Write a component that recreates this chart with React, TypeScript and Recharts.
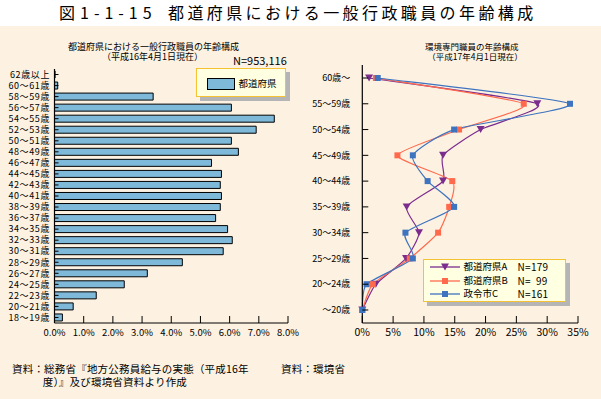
import React from 'react';
import {
  BarChart,
  Bar,
  LineChart,
  Line,
  XAxis,
  YAxis,
} from 'recharts';

const FONT = '"Noto Sans CJK JP", "Noto Sans", sans-serif';

// left chart: 都道府県 一般行政職員 (%)
const ageBands = [
  '62歳以上', '60～61歳', '58～59歳', '56～57歳', '54～55歳', '52～53歳',
  '50～51歳', '48～49歳', '46～47歳', '44～45歳', '42～43歳', '40～41歳',
  '38～39歳', '36～37歳', '34～35歳', '32～33歳', '30～31歳', '28～29歳',
  '26～27歳', '24～25歳', '22～23歳', '20～21歳', '18～19歳',
];
const prefShare = [
  0.02, 0.11, 3.38, 6.06, 7.53, 6.91, 6.06, 6.3, 5.38, 5.72, 5.68, 5.72,
  5.68, 5.52, 5.93, 6.09, 5.78, 4.38, 3.18, 2.39, 1.43, 0.64, 0.27,
];
const leftTicks = [0, 1, 2, 3, 4, 5, 6, 7, 8];

// right chart: 環境専門職員 (%)
const ageGroups = [
  '60歳～', '55～59歳', '50～54歳', '45～49歳', '40～44歳',
  '35～39歳', '30～34歳', '25～29歳', '20～24歳', '～20歳',
];
const prefA = [1.1, 28.4, 19.2, 13.1, 13.1, 7.2, 9.2, 7.1, 2.2, 0];
const prefB = [2.2, 26.2, 15.7, 5.7, 14.6, 14.1, 12.3, 7.7, 1.7, 0];
const cityC = [2.5, 33.7, 14.9, 8.2, 10.6, 14.9, 7.0, 8.2, 0.7, 0];
const rightTicks = [0, 5, 10, 15, 20, 25, 30, 35];

const barData = ageBands.map((age, i) => ({ age, value: prefShare[i] }));
const lineData = ageGroups.map((age, i) => ({
  age,
  a: prefA[i],
  b: prefB[i],
  c: cityC[i],
}));

const PURPLE = '#7B2D8E';
const ORANGE = '#FF6A4D';
const BLUE = '#3D73BF';

// mildly smoothed line, close to Excel's smoothing
function smoothCurve(context: any) {
  let pts: [number, number][] = [];
  const k = 1 / 10;
  return {
    areaStart() {},
    areaEnd() {},
    lineStart() {
      pts = [];
    },
    lineEnd() {
      if (!pts.length) return;
      context.moveTo(pts[0][0], pts[0][1]);
      for (let i = 0; i < pts.length - 1; i++) {
        const p0 = pts[i - 1] || pts[i];
        const p1 = pts[i];
        const p2 = pts[i + 1];
        const p3 = pts[i + 2] || p2;
        context.bezierCurveTo(
          p1[0] + (p2[0] - p0[0]) * k,
          p1[1] + (p2[1] - p0[1]) * k,
          p2[0] - (p3[0] - p1[0]) * k,
          p2[1] - (p3[1] - p1[1]) * k,
          p2[0],
          p2[1]
        );
      }
    },
    point(x: number, y: number) {
      pts.push([x, y]);
    },
  };
}

const makeXTick = (fmt: (v: number) => string, size: number) => (props: any) => {
  const { x, y, payload } = props;
  return (
    <g>
      <line x1={x} x2={x} y1={y} y2={y - 7} stroke='#000' />
      <text x={x} y={y + 13} textAnchor='middle' fontSize={size} fontFamily={FONT} fill='#000'>
        {fmt(payload.value)}
      </text>
    </g>
  );
};

const makeYTick = (gap: number, len: number, size: number, spacing = 0) => (props: any) => {
  const { x, y, payload } = props;
  return (
    <g>
      <line x1={x} x2={x + len} y1={y} y2={y} stroke='#000' />
      <text
        x={x - gap}
        y={y}
        dy={size * 0.36}
        textAnchor='end'
        fontSize={size}
        letterSpacing={spacing}
        fontFamily={FONT}
        fill='#000'
      >
        {payload.value}
      </text>
    </g>
  );
};

const triangle = (color: string) => (p: any) => (
  <path
    key={`t-${p.index}`}
    d={`M${p.cx - 4},${p.cy - 3.5} L${p.cx + 4},${p.cy - 3.5} L${p.cx},${p.cy + 3.5} Z`}
    fill={color}
  />
);
const square = (color: string) => (p: any) => (
  <rect key={`s-${p.index}`} x={p.cx - 3} y={p.cy - 3} width={6} height={6} fill={color} />
);

function Text({ left, top, size, children, spacing = 0, center }: any) {
  const style: React.CSSProperties = {
    position: 'absolute',
    top: top - size / 2,
    fontSize: size,
    lineHeight: 1,
    letterSpacing: spacing,
    whiteSpace: 'nowrap',
    color: '#000',
  };
  if (center) {
    style.left = left - 150;
    style.width = 300;
    style.textAlign = 'center';
  } else {
    style.left = left;
  }
  return <div style={style}>{children}</div>;
}

function LegendIcon({ color, marker }: { color: string; marker: 'tri' | 'sq' }) {
  return (
    <svg width={32} height={8} style={{ position: 'absolute', left: 0, top: -4 }}>
      <line x1={1} x2={31} y1={4} y2={4} stroke={color} strokeWidth={1.3} />
      {marker === 'tri' ? (
        <path d='M12,0.5 L20,0.5 L16,7.5 Z' fill={color} />
      ) : (
        <rect x={13} y={1} width={6} height={6} fill={color} />
      )}
    </svg>
  );
}

export default function App() {
  const legendItems = [
    { name: '都道府県A', n: 'N=179', color: PURPLE, marker: 'tri' as const, y: 267 },
    { name: '都道府県B', n: 'N=  99', color: ORANGE, marker: 'sq' as const, y: 280.5 },
    { name: '政令市C', n: 'N=161', color: BLUE, marker: 'sq' as const, y: 294 },
  ];

  return (
    <div
      style={{
        position: 'absolute',
        left: 0,
        top: 0,
        width: 601,
        height: 399,
        background: '#FDF2E2',
        fontFamily: FONT,
        overflow: 'hidden',
      }}
    >
      <div style={{ position: 'absolute', left: 0, top: 0, width: 601, height: 26, background: '#fff' }} />
      <Text left={59} top={12} size={16} spacing={5}>図1-1-15</Text>
      <Text left={168} top={12} size={16} spacing={3.4}>都道府県における一般行政職員の年齢構成</Text>

      <Text left={153.5} top={46} size={9} center>都道府県における一般行政職員の年齢構成</Text>
      <Text left={152.5} top={56} size={9} center>（平成16年4月1日現在）</Text>
      <Text left={233} top={60} size={11}>N=953,116</Text>

      <Text left={471.7} top={46} size={8.5} center>環境専門職員の年齢構成</Text>
      <Text left={475} top={56} size={8.5} center>（平成17年4月1日現在）</Text>

      <div style={{ position: 'absolute', left: 0, top: 0 }}>
        <BarChart
          width={300}
          height={345}
          data={barData}
          layout='vertical'
          margin={{ top: 69, right: 12, bottom: 0, left: 0.5 }}
        >
          <XAxis
            type='number'
            domain={[0, 8]}
            ticks={leftTicks}
            interval={0}
            height={22}
            axisLine={{ stroke: '#000', strokeWidth: 1.2 }}
            tickLine={false}
            tickSize={0}
            tickMargin={0}
            tick={makeXTick((v) => v.toFixed(1) + '%', 9.5)}
          />
          <YAxis
            type='category'
            dataKey='age'
            width={54}
            interval={0}
            axisLine={{ stroke: '#000', strokeWidth: 1.2 }}
            tickLine={false}
            tickSize={0}
            tickMargin={0}
            tick={makeYTick(4.5, 4, 9, 0.6)}
          />
          <Bar
            dataKey='value'
            fill='#7FB9D9'
            stroke='#000'
            strokeWidth={1}
            barSize={7}
            isAnimationActive={false}
          />
        </BarChart>
      </div>

      <div style={{ position: 'absolute', left: 300, top: 0 }}>
        <LineChart
          width={300}
          height={345}
          data={lineData}
          layout='vertical'
          margin={{ top: 65, right: 22, bottom: 0, left: 0 }}
        >
          <XAxis
            type='number'
            domain={[0, 35]}
            ticks={rightTicks}
            interval={0}
            height={22}
            axisLine={{ stroke: '#000', strokeWidth: 1.2 }}
            tickLine={false}
            tickSize={0}
            tickMargin={0}
            tick={makeXTick((v) => v + '%', 10.5)}
          />
          <YAxis
            type='category'
            dataKey='age'
            width={62.3}
            interval={0}
            padding={{ top: 13, bottom: 13 }}
            axisLine={{ stroke: '#000', strokeWidth: 1.2 }}
            tickLine={false}
            tickSize={0}
            tickMargin={0}
            tick={makeYTick(12, 6, 9)}
          />
          <Line
            dataKey='a'
            type={smoothCurve as any}
            stroke={PURPLE}
            strokeWidth={1.2}
            dot={triangle(PURPLE)}
            isAnimationActive={false}
          />
          <Line
            dataKey='b'
            type={smoothCurve as any}
            stroke={ORANGE}
            strokeWidth={1.2}
            dot={square(ORANGE)}
            isAnimationActive={false}
          />
          <Line
            dataKey='c'
            type={smoothCurve as any}
            stroke={BLUE}
            strokeWidth={1.2}
            dot={square(BLUE)}
            isAnimationActive={false}
          />
        </LineChart>
      </div>

      {/* left legend */}
      <div
        style={{
          position: 'absolute',
          left: 196,
          top: 68,
          width: 88,
          height: 27,
          background: '#FFFFE1',
          border: '1.5px solid #F4C232',
          boxShadow: '4px 4px 0 #B5B5B5',
        }}
      />
      <div
        style={{
          position: 'absolute',
          left: 206.5,
          top: 77.5,
          width: 26,
          height: 10.5,
          background: '#7FB9D9',
          border: '1.3px solid #000',
        }}
      />
      <Text left={238.5} top={84} size={9.5}>都道府県</Text>

      {/* right legend */}
      <div
        style={{
          position: 'absolute',
          left: 423,
          top: 259,
          width: 141,
          height: 41,
          background: '#FFFFE1',
          border: '1.5px solid #F4C232',
          boxShadow: '4px 4px 0 #B5B5B5',
        }}
      />
      {legendItems.map((it) => (
        <div key={it.name} style={{ position: 'absolute', left: 429, top: it.y }}>
          <LegendIcon color={it.color} marker={it.marker} />
        </div>
      ))}
      {legendItems.map((it) => (
        <React.Fragment key={it.name + 'l'}>
          <Text left={463.5} top={it.y} size={9.5}>{it.name}</Text>
          <Text left={517.5} top={it.y} size={10} spacing={0.3}>
            <span style={{ whiteSpace: 'pre' }}>{it.n}</span>
          </Text>
        </React.Fragment>
      ))}

      <Text left={12} top={369} size={10.5} spacing={0.2}>資料：総務省『地方公務員給与の実態（平成16年</Text>
      <Text left={42.7} top={382.5} size={10.5} spacing={0.2}>度）』及び環境省資料より作成</Text>
      <Text left={281} top={369} size={10.5} spacing={0.2}>資料：環境省</Text>
    </div>
  );
}
